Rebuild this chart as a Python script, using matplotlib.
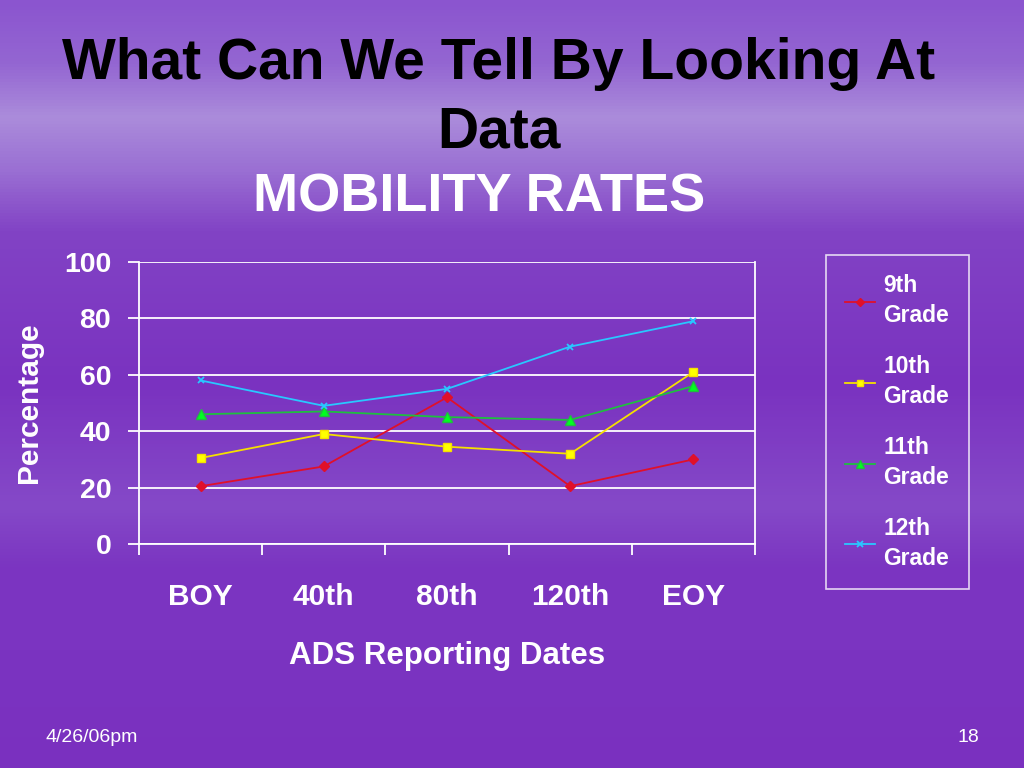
import numpy as np
import matplotlib
matplotlib.use("Agg")
import matplotlib.pyplot as plt
from matplotlib import font_manager as fm
from matplotlib.colors import LinearSegmentedColormap
from matplotlib.ticker import FixedLocator

categories = ["BOY", "40th", "80th", "120th", "EOY"]
grade_9 = [20.5, 27.5, 52, 20.5, 30]
grade_10 = [30.5, 39, 34.5, 32, 61]
grade_11 = [46, 47, 45, 44, 56]
grade_12 = [58, 49, 55, 70, 79]
series_labels = ["9th\nGrade", "10th\nGrade", "11th\nGrade", "12th\nGrade"]


def font_file(name):
    for f in fm.findSystemFonts():
        if f.endswith(name):
            return f
    return None


reg_file = font_file("LiberationSans-Regular.ttf")
bold_file = font_file("LiberationSans-Bold.ttf")


def fp(size, bold=True):
    f = bold_file if bold else reg_file
    if f:
        return fm.FontProperties(fname=f, size=size)
    return fm.FontProperties(family="DejaVu Sans", size=size, weight="bold" if bold else "normal")


fig = plt.figure(figsize=(10.24, 7.68), dpi=100)

# background: purple sky gradient
bg = fig.add_axes([0, 0, 1, 1], zorder=-10)
bg_cmap = LinearSegmentedColormap.from_list("sky", [
    (0.0, "#8b55cf"), (0.08, "#9466d2"), (0.15, "#ab8cdb"), (0.22, "#9a6fd3"),
    (0.30, "#8243c5"), (0.5, "#7a32c0"), (0.66, "#8549c8"), (0.74, "#7b35c1"),
    (0.85, "#7b34c1"), (1.0, "#7a30bf")])
grad = np.linspace(0, 1, 256).reshape(-1, 1)
bg.imshow(grad, aspect="auto", cmap=bg_cmap, extent=[0, 1, 0, 1], origin="upper")
bg.set_axis_off()

ax = fig.add_axes([139 / 1024, 1 - 544 / 768, 616 / 1024, 282 / 768])
ax.set_facecolor("none")
x = np.arange(len(categories))

ax.plot(x, grade_9, color="#e0102a", marker="D", markersize=5, lw=1.3, label=series_labels[0])
ax.plot(x, grade_10, color="#f5e000", marker="s", markersize=6, lw=1.3,
        markerfacecolor="#ffff00", label=series_labels[1])
ax.plot(x, grade_11, color="#1fbf3f", marker="^", markersize=7, lw=1.3,
        markerfacecolor="#00ff20", label=series_labels[2])
ax.plot(x, grade_12, color="#29c8ff", marker="x", markersize=5, mew=1.3, lw=1.3, label=series_labels[3])

ax.set_xlim(-0.5, len(categories) - 0.5)
ax.set_ylim(0, 100)
ax.set_yticks([0, 20, 40, 60, 80, 100])
ax.grid(axis="y", color="white", lw=1.3)
ax.set_axisbelow(True)
for s in ax.spines.values():
    s.set_color("white")
    s.set_linewidth(1.3)
ax.spines["top"].set_visible(False)

ax.set_xticks(x)
ax.set_xticklabels(categories, fontproperties=fp(21.5), color="white")
ax.xaxis.set_minor_locator(FixedLocator(np.arange(-0.5, len(categories), 1)))
ax.tick_params(axis="x", which="major", length=0, pad=28)
ax.tick_params(axis="x", which="minor", length=8, color="white", width=1.3, direction="out")
ax.tick_params(axis="y", length=8, color="white", width=1.3, pad=12, labelcolor="white")
for t in ax.get_yticklabels():
    t.set_fontproperties(fp(20.5))

ax.set_ylabel("Percentage", fontproperties=fp(21.5), color="white", labelpad=15)
ax.set_xlabel("ADS Reporting Dates", fontproperties=fp(22.5), color="white", labelpad=22)

leg = ax.legend(loc="upper left", bbox_to_anchor=(826 / 1024, 1 - 255 / 768),
                bbox_transform=fig.transFigure, frameon=True, fancybox=False,
                prop=fp(16.5), labelcolor="white",
                handlelength=1.3, handletextpad=0.36, labelspacing=1.25,
                borderpad=0.85, borderaxespad=0, markerscale=0.8)
for t in leg.get_texts():
    t.set_linespacing(1.35)
leg.get_frame().set_facecolor("none")
leg.get_frame().set_edgecolor("white")
leg.get_frame().set_linewidth(1.2)

fig.text(0.487, 1 - 64 / 768, "What Can We Tell By Looking At", ha="center", va="center",
         fontproperties=fp(41), color="black")
fig.text(0.487, 1 - 133 / 768, "Data", ha="center", va="center",
         fontproperties=fp(41), color="black")
fig.text(0.468, 1 - 198 / 768, "MOBILITY RATES", ha="center", va="center",
         fontproperties=fp(39), color="white")

fig.text(45 / 1024, 1 - 737 / 768, "4/26/06pm", ha="left", va="center",
         fontproperties=fp(14, bold=False), color="white")
fig.text(968 / 1024, 1 - 737 / 768, "18", ha="center", va="center",
         fontproperties=fp(14, bold=False), color="white")

fig.savefig("out.png", dpi=100)
